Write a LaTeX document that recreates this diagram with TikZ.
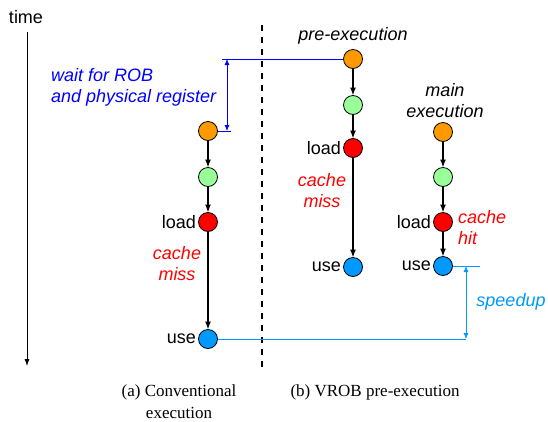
\documentclass[tikz,border=0pt]{standalone}
\usepackage{fontspec}
\setmainfont{Liberation Serif}
\setsansfont{Liberation Sans}
\usetikzlibrary{arrows.meta, positioning}

\definecolor{stOrange}{RGB}{255,153,0}
\definecolor{stGreen}{RGB}{153,255,153}
\definecolor{stRed}{RGB}{255,0,0}
\definecolor{stBlue}{RGB}{0,153,255}

\begin{document}
\begin{tikzpicture}[
  x=1pt, y=-1pt,
  stage/.style={circle, draw, line width=0.8pt, minimum size=19pt, inner sep=0pt, outer sep=0pt},
  edge/.style={-{Latex[length=8pt, width=6pt]}, line width=1.4pt},
  txt/.style={font=\fontsize{18}{21}\selectfont\sffamily},
  note/.style={font=\fontsize{18}{21}\selectfont\sffamily\itshape, align=center, inner sep=1pt},
  captext/.style={font=\fontsize{17}{22}\selectfont\rmfamily, align=center},
  thinline/.style={line width=0.8pt},
  every label/.style={font=\fontsize{18}{21}\selectfont\sffamily, inner sep=2.5pt}
]
\useasboundingbox (0,0) rectangle (548,421);

% time axis
\node[txt] (time) at (26,17) {time};
\coordinate (t0) at (27,32);
\coordinate (t1) at (27,366);
\draw[thinline, -{Latex[length=7pt, width=5pt]}] (t0) -- (t1);

% separator
\coordinate (d0) at (262,25);
\coordinate (d1) at (262,370);
\draw[line width=1.6pt, dash pattern=on 6pt off 6pt] (d0) -- (d1);

% (a) conventional
\node[stage, fill=stOrange] (a1) at (208,131) {};
\node[stage, fill=stGreen, below=27pt of a1] (a2) {};
\node[stage, fill=stRed, below=26pt of a2, label=left:load] (a3) {};
\node[stage, fill=stBlue, below=98pt of a3, label=left:use] (a4) {};
\node[note, text=stRed] (missA) at (177,264) {cache\\miss};

% (b) pre-execution
\node[stage, fill=stOrange] (b1) at (353,59) {};
\node[stage, fill=stGreen, below=27pt of b1] (b2) {};
\node[stage, fill=stRed, below=24pt of b2, label=left:load] (b3) {};
\node[stage, fill=stBlue, below=100pt of b3, label=left:use] (b4) {};
\node[note] (pre) at (353,36) {pre-execution};
\node[note, text=stRed] (missB) at (322,191) {cache\\miss};

% main execution
\node[stage, fill=stOrange] (c1) at (443,132) {};
\node[stage, fill=stGreen, below=26pt of c1] (c2) {};
\node[stage, fill=stRed, below=26pt of c2, label=left:load] (c3) {};
\node[stage, fill=stBlue, below=25pt of c3, label=left:use] (c4) {};
\node[note] (main) at (445,101) {main\\execution};
\node[note, text=stRed, align=left, anchor=west] (hit) at (457,228) {cache\\hit};

\foreach \col in {a,b,c}
  \foreach \i/\j in {1/2,2/3,3/4}
    \draw[edge] (\col\i) -- (\col\j);

% wait for ROB
\coordinate (w0) at (222,59);
\coordinate (w1) at (231,131);
\coordinate (wt) at (227,59);
\coordinate (wb) at (227,131);
\draw[thinline, blue] (w0) -- (b1.west);
\draw[thinline, blue] (a1.east) -- (w1);
\draw[thinline, blue, {Latex[length=6pt, width=5pt]}-{Latex[length=6pt, width=5pt]}] (wt) -- (wb);
\node[note, text=blue, align=left, anchor=west] (wait) at (50,87) {wait for ROB\\and physical register};

% speedup
\coordinate (s0) at (480,266);
\coordinate (s1) at (466,339);
\coordinate (st) at (466,266);
\draw[thinline, stBlue] (c4.east) -- (s0);
\draw[thinline, stBlue] (a4.east) -- (s1);
\draw[thinline, stBlue, {Latex[length=6pt, width=5pt]}-{Latex[length=6pt, width=5pt]}] (st) -- (s1);
\node[note, text=stBlue] (speed) at (511,302) {speedup};

% captions
\node[captext] (capA) at (179,402) {(a) Conventional\\execution};
\node[captext] (capB) at (375,392) {(b) VROB pre-execution};
\end{tikzpicture}
\end{document}
